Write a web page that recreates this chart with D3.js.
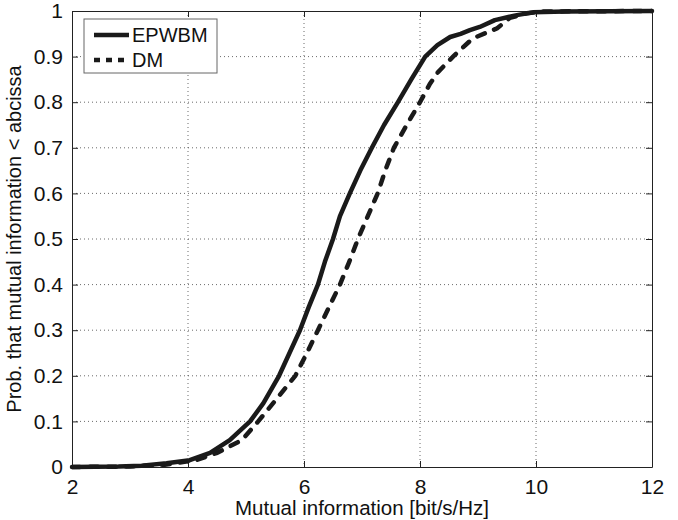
<!DOCTYPE html>
<html>
<head>
<meta charset="utf-8">
<script src="https://cdn.jsdelivr.net/npm/d3@7"></script>
<style>
body { margin: 0; background: #fff; }
svg text { font-family: "Liberation Sans", Arial, sans-serif; fill: #111; }
</style>
</head>
<body>
<div id="chart"></div>
<script>
var width = 678, height = 520;
var margin = { top: 11, right: 26, bottom: 53, left: 72 };

// series: [mutual information, probability]
var epwbmX = [2, 2.8, 3.2, 3.63, 4.03, 4.38, 4.72, 5.07, 5.3, 5.57, 5.75, 5.93, 6.08, 6.24, 6.36, 6.5, 6.62, 6.79, 6.97, 7.17, 7.38, 7.62, 7.85, 8.09, 8.3, 8.52, 8.7, 8.86, 9.03, 9.29, 9.67, 9.95, 10.5, 12];
var epwbmP = [0, 0.001, 0.003, 0.008, 0.015, 0.031, 0.059, 0.1, 0.14, 0.2, 0.25, 0.3, 0.35, 0.4, 0.45, 0.5, 0.55, 0.6, 0.65, 0.7, 0.75, 0.8, 0.85, 0.9, 0.925, 0.943, 0.95, 0.958, 0.965, 0.98, 0.991, 0.997, 0.999, 1];
var dmX = [2, 3.0, 3.6, 4.14, 4.5, 4.93, 5.21, 5.5, 5.85, 6.05, 6.24, 6.43, 6.62, 6.78, 6.93, 7.1, 7.27, 7.4, 7.55, 7.77, 8.0, 8.17, 8.31, 8.57, 8.91, 9.33, 9.55, 9.84, 10.1, 12];
var dmP = [0, 0.001, 0.005, 0.015, 0.031, 0.059, 0.1, 0.145, 0.2, 0.25, 0.3, 0.35, 0.4, 0.45, 0.5, 0.55, 0.6, 0.65, 0.7, 0.75, 0.8, 0.84, 0.866, 0.9, 0.94, 0.962, 0.985, 0.995, 0.999, 1];

var xTicks = [2, 4, 6, 8, 10, 12];
var yTicks = [0, 0.1, 0.2, 0.3, 0.4, 0.5, 0.6, 0.7, 0.8, 0.9, 1];
var legendNames = ["EPWBM", "DM"];

var w = width - margin.left - margin.right,
    h = height - margin.top - margin.bottom;

var svg = d3.select("#chart").append("svg")
    .attr("width", width)
    .attr("height", height)
    .append("g")
    .attr("transform", "translate(" + margin.left + "," + margin.top + ")");

var x = d3.scaleLinear().domain([2, 12]).range([0, w]);
var y = d3.scaleLinear().domain([0, 1]).range([h, 0]);

// grid
svg.selectAll(".vgrid")
    .data(xTicks.slice(1, -1))
    .enter().append("line")
    .attr("x1", function (d) { return x(d); })
    .attr("x2", function (d) { return x(d); })
    .attr("y1", 0).attr("y2", h)
    .attr("stroke", "#444").attr("stroke-width", 0.8)
    .attr("stroke-dasharray", "1,3");
svg.selectAll(".hgrid")
    .data(yTicks.slice(1, -1))
    .enter().append("line")
    .attr("y1", function (d) { return y(d); })
    .attr("y2", function (d) { return y(d); })
    .attr("x1", 0).attr("x2", w)
    .attr("stroke", "#444").attr("stroke-width", 0.8)
    .attr("stroke-dasharray", "1,3");

// axes, ticks pointing in
var xAxis = svg.append("g")
    .attr("transform", "translate(0," + h + ")")
    .call(d3.axisBottom(x).tickValues(xTicks).tickSizeInner(-6).tickSizeOuter(0).tickPadding(12));
var xTop = svg.append("g")
    .call(d3.axisTop(x).tickValues(xTicks).tickSizeInner(-6).tickSizeOuter(0).tickFormat(""));
var yAxis = svg.append("g")
    .call(d3.axisLeft(y).tickValues(yTicks).tickSizeInner(-6).tickSizeOuter(0).tickPadding(9)
        .tickFormat(function (d) { return d === 0 || d === 1 ? d : d3.format(".1f")(d); }));
var yRight = svg.append("g")
    .attr("transform", "translate(" + w + ",0)")
    .call(d3.axisRight(y).tickValues(yTicks).tickSizeInner(-6).tickSizeOuter(0).tickFormat(""));

[xAxis, xTop, yAxis, yRight].forEach(function (a) {
    a.select(".domain").attr("stroke", "#222").attr("stroke-width", 1);
    a.selectAll(".tick line").attr("stroke", "#222");
    a.selectAll("text").style("font-size", "21px").attr("fill", "#111");
});

// curves
var line = d3.line()
    .x(function (d) { return x(d[0]); })
    .y(function (d) { return y(d[1]); });

var epwbm = epwbmX.map(function (v, i) { return [v, epwbmP[i]]; });
var dm = dmX.map(function (v, i) { return [v, dmP[i]]; });

svg.append("path")
    .datum(dm)
    .attr("d", line)
    .attr("fill", "none")
    .attr("stroke", "#1a1a1a")
    .attr("stroke-width", 4.5)
    .attr("stroke-linecap", "round")
    .attr("stroke-dasharray", "8,10");

svg.append("path")
    .datum(epwbm)
    .attr("d", line)
    .attr("fill", "none")
    .attr("stroke", "#1a1a1a")
    .attr("stroke-width", 4.5)
    .attr("stroke-linejoin", "round");

// legend
var legend = svg.append("g").attr("transform", "translate(12,8)");
legend.append("rect")
    .attr("width", 133).attr("height", 54)
    .attr("fill", "#fff").attr("stroke", "#666").attr("stroke-width", 1);
legendNames.forEach(function (name, i) {
    var ly = 16 + i * 25;
    legend.append("line")
        .attr("x1", 10).attr("x2", 45).attr("y1", ly).attr("y2", ly)
        .attr("stroke", "#1a1a1a").attr("stroke-width", 4.5)
        .attr("stroke-dasharray", i === 1 ? "6,6" : null);
    legend.append("text")
        .attr("x", 48).attr("y", ly).attr("dy", "0.36em")
        .style("font-size", "20px")
        .text(name);
});

// axis labels
svg.append("text")
    .attr("x", w / 2).attr("y", h + 48)
    .attr("text-anchor", "middle")
    .style("font-size", "20.5px")
    .text("Mutual information [bit/s/Hz]");
svg.append("text")
    .attr("transform", "translate(-51," + (h / 2) + ") rotate(-90)")
    .attr("text-anchor", "middle")
    .style("font-size", "20px")
    .text("Prob. that mutual information < abcissa");
</script>
</body>
</html>
